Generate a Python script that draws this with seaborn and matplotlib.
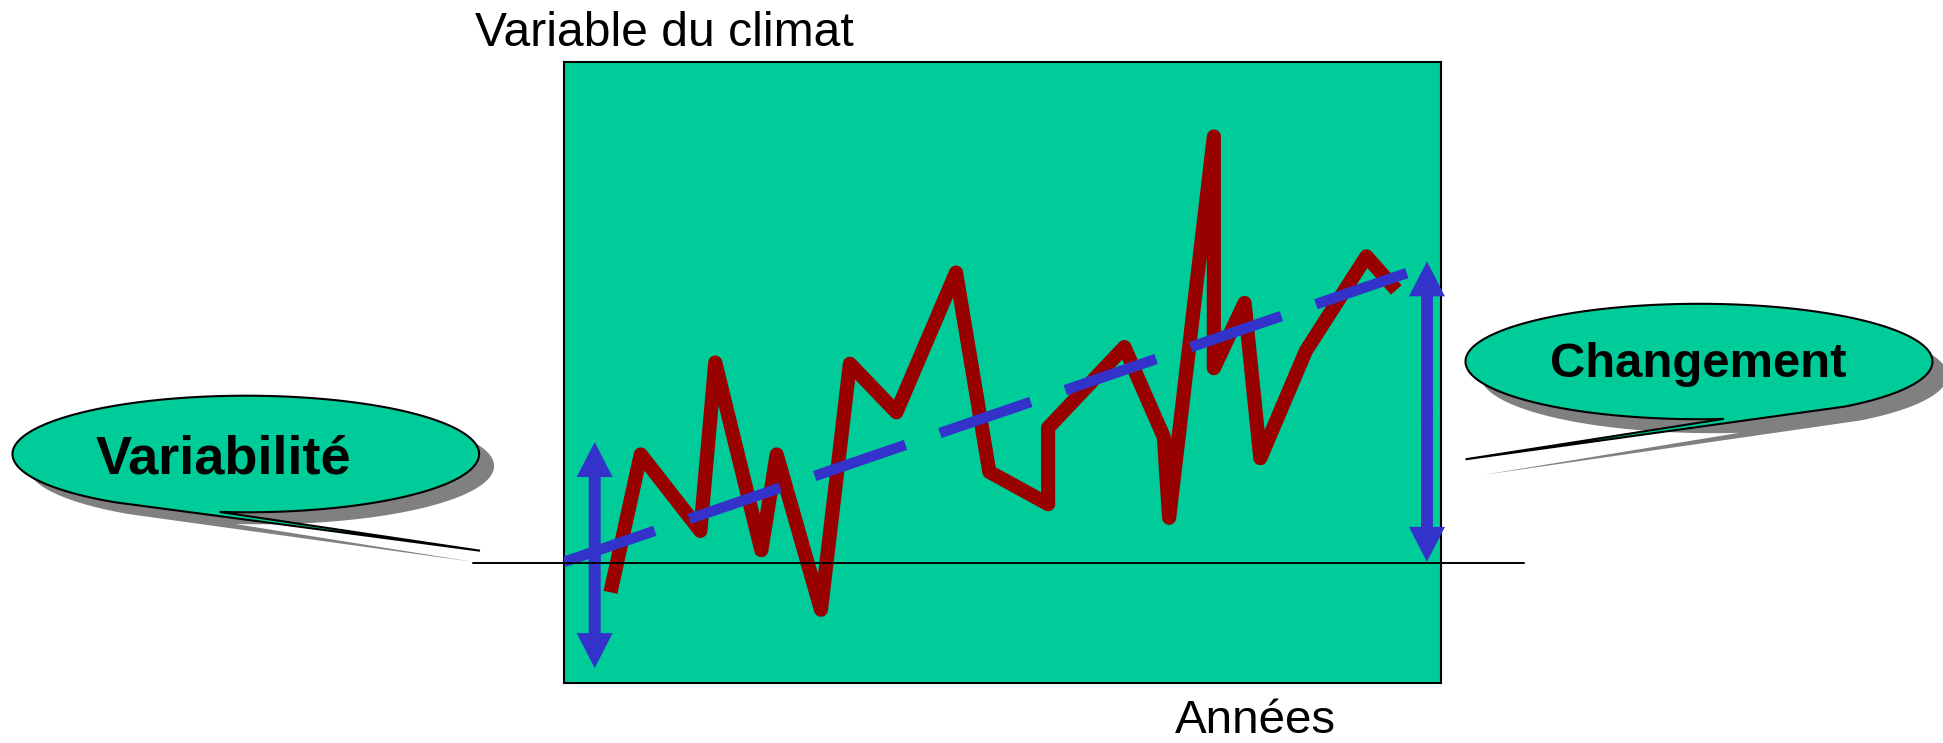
import numpy as np
import pandas as pd
import matplotlib.pyplot as plt
from matplotlib.patches import Polygon
import seaborn as sns

# climate variable (x = years, y = value, both 0..100)
annees = [5.3, 8.75, 15.55, 17.25, 22.5, 24.25, 29.3, 32.6, 37.9, 44.7, 48.5, 55.2,
          55.2, 63.9, 68.4, 69.0, 74.1, 74.1, 77.6, 79.4, 84.6, 91.5, 94.9]
valeurs = [14.6, 36.8, 24.5, 51.6, 21.4, 36.8, 11.8, 51.4, 43.6, 66.1, 34.0, 28.8,
           41.1, 54.1, 39.6, 26.6, 88.0, 50.7, 61.2, 36.2, 53.5, 68.7, 63.3]

# trend (dashed blue) and baseline
tendance_x = [0, 100]
tendance_y = [19.5, 67.9]
base_x = [-10.4, 109.5]
base_y = [19.4, 19.4]

# double arrows: (x, y_bottom, y_top)
fleche_var = (3.5, 2.4, 38.8)
fleche_chg = (98.4, 19.5, 67.9)

titre = 'Variable du climat'
label_x = 'Années'
label_var = 'Variabilité'
label_chg = 'Changement'

VERT = '#00CC99'
ROUGE = '#990000'
BLEU = '#3333CC'
OMBRE = '#808080'

sns.set_style('white')
plt.rcParams['font.family'] = ['Liberation Sans', 'DejaVu Sans']

W, H = 1943, 743
fig = plt.figure(figsize=(W / 100, H / 100), dpi=100)

# overlay in pixel coordinates for the callouts and texts
bg = fig.add_axes([0, 0, 1, 1])
bg.set_xlim(0, W)
bg.set_ylim(H, 0)
bg.axis('off')


def bulle(cx, cy, a, b, t0, t1, tip):
    t = np.radians(np.linspace(t0, t1, 300))
    pts = np.column_stack([cx + a * np.cos(t), cy - b * np.sin(t)])
    return np.vstack([pts, [tip]])


def callout(cx, cy, a, b, t0, t1, tip, tip_sh, dx=15, dy=13):
    sh = bulle(cx + dx, cy + dy, a, b, t0, t1, tip_sh)
    bg.add_patch(Polygon(sh, closed=True, fc=OMBRE, ec='none', zorder=1))
    pts = bulle(cx, cy, a, b, t0, t1, tip)
    bg.add_patch(Polygon(pts, closed=True, fc=VERT, ec='black', lw=1.5,
                         joinstyle='miter', zorder=2))


callout(245.8, 454, 233.3, 58.3, 263.6, 595.9, (480, 550.7), (474, 562), 15, 12)
callout(1699, 361.5, 233.5, 57.7, 308.7, 636.1, (1465.5, 459.3), (1482.7, 475), 15, 14)

bg.text(96, 473, label_var, fontsize=39, fontweight='bold', color='black',
        ha='left', va='baseline', zorder=3)
bg.text(1549.5, 377, label_chg, fontsize=35.3, fontweight='bold', color='black',
        ha='left', va='baseline', zorder=3)
bg.text(475, 46, titre, fontsize=34.6, color='black', ha='left', va='baseline')
bg.text(1175, 733, label_x, fontsize=34.2, color='black', ha='left', va='baseline')

# main box
ax = fig.add_axes([564 / W, (H - 683) / H, 877 / W, 621 / H])
ax.set_facecolor(VERT)
for s in ax.spines.values():
    s.set_color('black')
    s.set_linewidth(1.5)
ax.set_xlim(0, 100)
ax.set_ylim(0, 100)
ax.set_xticks([])
ax.set_yticks([])

df = pd.DataFrame({'annee': annees, 'valeur': valeurs})
sns.lineplot(data=df, x='annee', y='valeur', sort=False, estimator=None,
             color=ROUGE, ax=ax, zorder=2)
rouge = ax.lines[-1]
rouge.set_linewidth(10.2)
rouge.set_solid_joinstyle('round')
rouge.set_solid_capstyle('butt')

ax.plot(tendance_x, tendance_y, color=BLEU, linewidth=7.6, dashes=(9.1, 3.45),
        dash_capstyle='butt', zorder=3)

for fx, y0, y1 in [fleche_var, fleche_chg]:
    ym = (y0 + y1) / 2
    for a, b in [(ym - 1, y1), (ym + 1, y0)]:
        ax.annotate('', xy=(fx, b), xytext=(fx, a),
                    arrowprops=dict(arrowstyle='simple,head_length=25.2,head_width=25.9,tail_width=8.6',
                                    mutation_scale=1, fc=BLEU, ec='none', lw=0,
                                    shrinkA=0, shrinkB=0), zorder=4)

ax.plot(base_x, base_y, color='black', linewidth=1.4, clip_on=False, zorder=5)
ax.set_xlabel('')
ax.set_ylabel('')

fig.savefig('out.png', dpi=100)
